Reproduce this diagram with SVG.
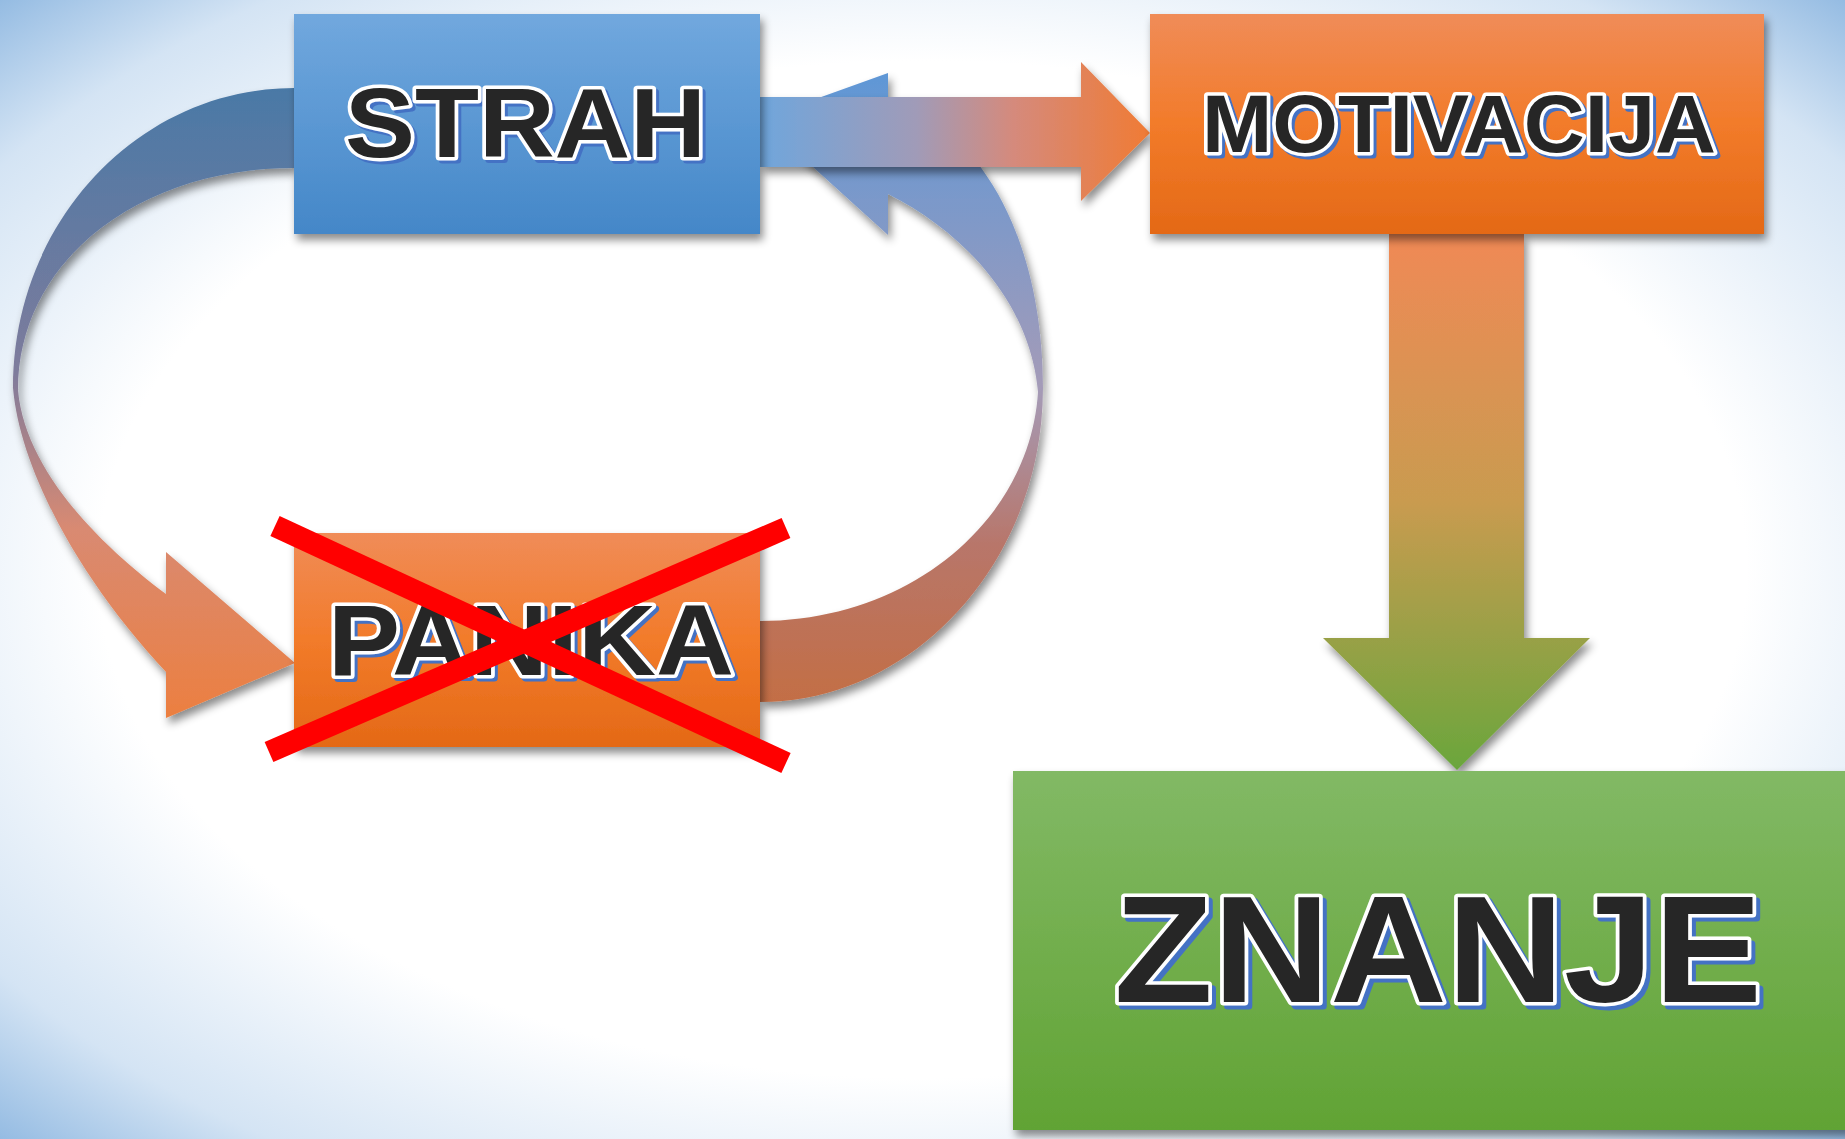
<svg xmlns="http://www.w3.org/2000/svg" width="1845" height="1139" viewBox="0 0 1845 1139">
<defs>
<radialGradient id="bg" cx="0.5" cy="0.5" r="0.72">
<stop offset="0" stop-color="#ffffff"/>
<stop offset="0.62" stop-color="#ffffff"/>
<stop offset="0.85" stop-color="#d4e4f4"/>
<stop offset="1" stop-color="#8cb6e0"/>
</radialGradient>
<linearGradient id="gBlue" x1="0" y1="0" x2="0" y2="1">
<stop offset="0" stop-color="#71a8de"/>
<stop offset="1" stop-color="#4487c8"/>
</linearGradient>
<linearGradient id="gOrange" x1="0" y1="0" x2="0" y2="1">
<stop offset="0" stop-color="#f08c58"/>
<stop offset="0.5" stop-color="#f27b2a"/>
<stop offset="1" stop-color="#e46916"/>
</linearGradient>
<linearGradient id="gGreen" x1="0" y1="0" x2="0" y2="1">
<stop offset="0" stop-color="#82b965"/>
<stop offset="1" stop-color="#61a334"/>
</linearGradient>
<linearGradient id="gLeft" gradientUnits="userSpaceOnUse" x1="0" y1="88" x2="0" y2="718">
<stop offset="0" stop-color="#4a79a6"/>
<stop offset="0.45" stop-color="#7e7b9c"/>
<stop offset="0.7" stop-color="#d98a72"/>
<stop offset="1" stop-color="#ec7f40"/>
</linearGradient>
<linearGradient id="gRight" gradientUnits="userSpaceOnUse" x1="0" y1="73" x2="0" y2="702">
<stop offset="0" stop-color="#5f97d6"/>
<stop offset="0.5" stop-color="#a49bb8"/>
<stop offset="0.75" stop-color="#b8766a"/>
<stop offset="1" stop-color="#c36e45"/>
</linearGradient>
<linearGradient id="gH" gradientUnits="userSpaceOnUse" x1="760" y1="0" x2="1150" y2="0">
<stop offset="0" stop-color="#6fa6dc"/>
<stop offset="0.4" stop-color="#a09bb8"/>
<stop offset="0.65" stop-color="#d58a7c"/>
<stop offset="1" stop-color="#f07b34"/>
</linearGradient>
<linearGradient id="gV" gradientUnits="userSpaceOnUse" x1="0" y1="234" x2="0" y2="770">
<stop offset="0" stop-color="#f08955"/>
<stop offset="0.5" stop-color="#c99b50"/>
<stop offset="1" stop-color="#6aa63c"/>
</linearGradient>
<filter id="sh" x="-10%" y="-10%" width="130%" height="130%">
<feDropShadow dx="3" dy="6" stdDeviation="4" flood-color="#000" flood-opacity="0.45"/>
</filter>
<style>
.lbl{font-family:"Liberation Sans",Arial,sans-serif;font-weight:bold;paint-order:stroke;stroke-linejoin:round}
.fg{fill:#262626;stroke:#ffffff;stroke-width:7}
.bs{fill:#4472c4;stroke:#4472c4;stroke-width:7}
.x{stroke:#ff0000;stroke-width:22;fill:none}
</style>
</defs>
<rect x="0" y="0" width="1845" height="1139" fill="url(#bg)"/>

<g id="connectors">
<path id="loop-left" filter="url(#sh)" fill="url(#gLeft)" d="M294,88 C139,88 13,222 13,388 C20,470 80,580 166,672 L166,718 L295,663 L166,552 L166,594 C100,545 25,470 18,390 C18,260 140,168 294,168 Z"/>
<path id="loop-right" filter="url(#sh)" fill="url(#gRight)" d="M760,702 C915,702 1043,560 1043,388 C1043,280 1010,180 940,125 L888,118 L888,73 L760,119 L888,235 L888,194 C960,230 1030,300 1038,392 C1030,520 910,621 760,621 Z"/>
<path id="arrow-strah-motivacija" filter="url(#sh)" fill="url(#gH)" d="M760,97 L1081,97 L1081,62 L1150,133 L1081,201 L1081,167 L760,167 Z"/>
<path id="arrow-motivacija-znanje" filter="url(#sh)" fill="url(#gV)" d="M1389,234 L1524,234 L1524,638 L1590,638 L1457,770 L1323,638 L1389,638 Z"/>
</g>

<g id="node-strah">
<rect x="294" y="14" width="466" height="220" fill="url(#gBlue)" filter="url(#sh)"/>
<text class="lbl bs" x="348" y="160" font-size="99" textLength="361" lengthAdjust="spacingAndGlyphs">STRAH</text>
<text class="lbl fg" x="345" y="157" font-size="99" textLength="361" lengthAdjust="spacingAndGlyphs">STRAH</text>
</g>

<g id="node-motivacija">
<rect x="1150" y="14" width="614" height="220" fill="url(#gOrange)" filter="url(#sh)"/>
<text class="lbl bs" x="1205" y="155" font-size="81" textLength="514" lengthAdjust="spacingAndGlyphs">MOTIVACIJA</text>
<text class="lbl fg" x="1202" y="152" font-size="81" textLength="514" lengthAdjust="spacingAndGlyphs">MOTIVACIJA</text>
</g>

<g id="node-panika">
<rect x="294" y="533" width="466" height="214" fill="url(#gOrange)" filter="url(#sh)"/>
<text class="lbl bs" x="331" y="678" font-size="100" textLength="406" lengthAdjust="spacingAndGlyphs">PANIKA</text>
<text class="lbl fg" x="328" y="675" font-size="100" textLength="406" lengthAdjust="spacingAndGlyphs">PANIKA</text>
<line class="x" x1="275" y1="526" x2="786" y2="763"/>
<line class="x" x1="269" y1="752" x2="786" y2="528"/>
</g>

<g id="node-znanje">
<rect x="1013" y="771" width="860" height="359" fill="url(#gGreen)" filter="url(#sh)"/>
<text class="lbl bs" x="1118" y="1006" font-size="152" textLength="648" lengthAdjust="spacingAndGlyphs">ZNANJE</text>
<text class="lbl fg" x="1114" y="1002" font-size="152" textLength="648" lengthAdjust="spacingAndGlyphs">ZNANJE</text>
</g>
</svg>
